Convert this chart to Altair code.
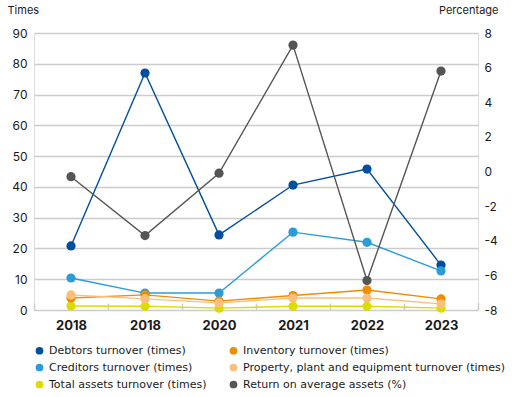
import json
import altair as alt
import pandas as pd

years = ["2018", "2018", "2020", "2021", "2022", "2023"]

# legend order (column-major, two columns)
series_names = [
    "Debtors turnover (times)",
    "Creditors turnover (times)",
    "Total assets turnover (times)",
    "Inventory turnover (times)",
    "Property, plant and equipment turnover (times)",
    "Return on average assets (%)",
]
series_colors = ["#004f9f", "#2b9cd8", "#dcdc00", "#f08c00", "#fbbf7c", "#555555"]

debtors = [20.8, 77.0, 24.4, 40.6, 45.8, 14.6]
creditors = [10.4, 5.5, 5.5, 25.3, 22.0, 12.7]
total_assets = [1.3, 1.2, 0.6, 1.2, 1.2, 0.6]
inventory = [3.9, 4.9, 2.9, 4.7, 6.5, 3.6]
ppe = [4.9, 3.6, 2.3, 3.9, 3.9, 2.0]
roaa = [-0.3, -3.7, -0.1, 7.3, -6.3, 5.8]

left_values = [debtors, creditors, total_assets, inventory, ppe]

rows = []
for name, vals in zip(series_names[:5], left_values):
    for i, v in enumerate(vals):
        rows.append({"pos": i, "series": name, "value": v, "axis": "left"})
for i, v in enumerate(roaa):
    rows.append({"pos": i, "series": series_names[5], "value": v, "axis": "right"})
df = pd.DataFrame(rows)

FONT = "Inter"
LEG_FONT = "DejaVu Sans"
GRID = "#cccccc"

x_enc = alt.X(
    "pos:O",
    scale=alt.Scale(type="band", paddingInner=0, paddingOuter=0),
    bandPosition=0.5,
    axis=alt.Axis(
        title=None,
        labelExpr=f"{json.dumps(years)}[datum.value]",
        labelFont=FONT,
        labelFontWeight="bold",
        labelFontSize=13,
        labelColor="#1a1a1a",
        labelAngle=0,
        domain=False,
        ticks=True,
        tickBand="extent",
        tickSize=7,
        tickColor=GRID,
        tickWidth=1.5,
        offset=-7,
        labelPadding=9,
        grid=False,
        gridColor="transparent",
    ),
)

color_scale = alt.Scale(domain=series_names, range=series_colors)
legend = alt.Legend(
    title=None,
    orient="none",
    legendX=0,
    legendY=312,
    columns=2,
    direction="vertical",
    symbolType="circle",
    symbolSize=60,
    symbolStrokeWidth=0,
    labelFont=LEG_FONT,
    labelFontSize=11,
    labelColor="#1a1a1a",
    columnPadding=21,
    rowPadding=5,
    labelLimit=400,
)
color_enc = alt.Color("series:N", scale=color_scale, legend=legend)

y_left = alt.Y(
    "value:Q",
    scale=alt.Scale(domain=[0, 90], nice=False, zero=False),
    axis=alt.Axis(
        title="Times",
        values=list(range(0, 91, 10)),
        grid=True,
        gridColor=GRID,
        gridWidth=1.5,
        domain=False,
        ticks=False,
        labelPadding=7,
        labelFont=FONT,
        labelFontSize=12,
        labelColor="#1a1a1a",
        titleAngle=0,
        titleX=-27,
        titleY=-23,
        titleAlign="left",
        titleBaseline="middle",
        titleFont=FONT,
        titleFontWeight="normal",
        titleFontSize=11,
        titleColor="#1a1a1a",
    ),
)

y_right = alt.Y(
    "value:Q",
    scale=alt.Scale(domain=[-8, 8], nice=False, zero=False),
    axis=alt.Axis(
        title="Percentage",
        orient="right",
        values=list(range(-8, 9, 2)),
        labelExpr="'' + datum.value",
        grid=False,
        domain=False,
        ticks=False,
        labelPadding=6,
        labelFont=FONT,
        labelFontSize=12,
        labelColor="#1a1a1a",
        titleAngle=0,
        titleX=20,
        titleY=-23,
        titleAlign="right",
        titleBaseline="middle",
        titleFont=FONT,
        titleFontWeight="normal",
        titleFontSize=11,
        titleColor="#1a1a1a",
    ),
)

left_base = alt.Chart(df).transform_filter(alt.datum.axis == "left")
left_lines = left_base.mark_line(strokeWidth=1.4).encode(x=x_enc, y=y_left, color=color_enc)
left_points = left_base.mark_circle(size=85, opacity=1).encode(x=x_enc, y=y_left, color=color_enc)
left = alt.layer(left_lines, left_points)

right_base = alt.Chart(df).transform_filter(alt.datum.axis == "right")
right_lines = right_base.mark_line(strokeWidth=1.4).encode(x=x_enc, y=y_right, color=color_enc)
right_points = right_base.mark_circle(size=85, opacity=1).encode(x=x_enc, y=y_right, color=color_enc)
right = alt.layer(right_lines, right_points)

chart = (
    alt.layer(left, right)
    .resolve_scale(y="independent", color="shared")
    .properties(
        width=444,
        height=277,
        autosize=alt.AutoSizeParams(type="none"),
        padding={"left": 34, "top": 33, "right": 41, "bottom": 87},
    )
    .configure_view(stroke="transparent", strokeWidth=0)
    .configure_axis(domain=False, domainColor="transparent", tickColor="transparent",
                    gridColor="transparent")
    .configure_axisX(grid=False, gridColor="transparent", domainColor="transparent")
    .configure_axisY(domain=False, domainColor="transparent", tickColor="transparent")
    .configure_axisBand(grid=False, gridColor="transparent")
    .configure(background="white")
)

chart.save("out.html", embed_options={"renderer": "svg", "actions": False})
